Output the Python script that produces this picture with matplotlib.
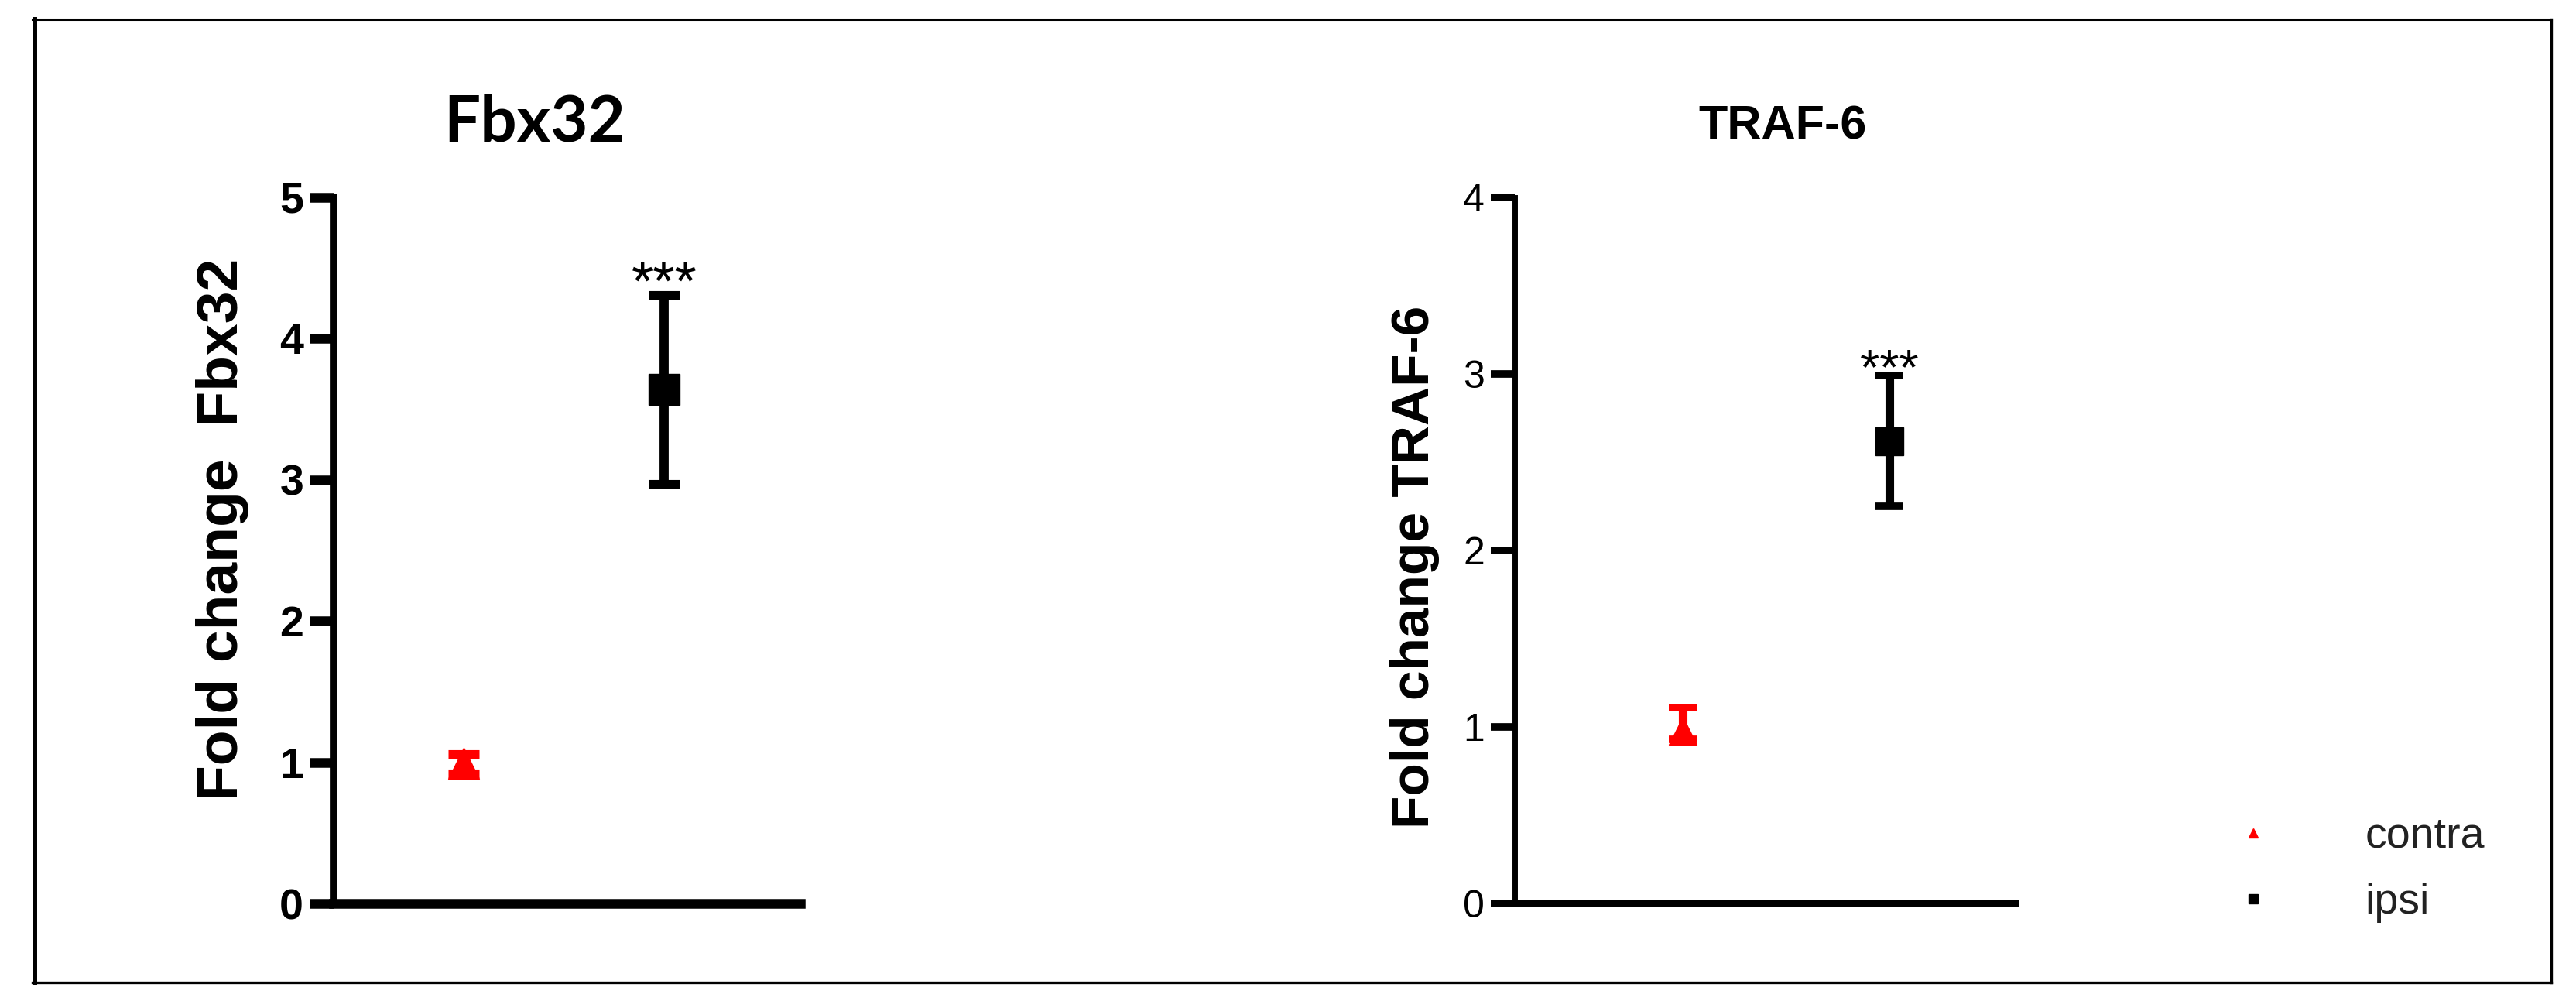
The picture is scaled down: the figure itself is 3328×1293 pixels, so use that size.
import matplotlib
matplotlib.use('Agg')
import matplotlib.pyplot as plt
from matplotlib.lines import Line2D

# data
groups = ['contra', 'ipsi']
fbx_mean = [0.99, 3.64]
fbx_err = [0.07, 0.67]
traf_mean = [0.98, 2.62]
traf_err_low = [0.05, 0.37]   # lower bar of contra hidden under the marker
traf_err_high = [0.13, 0.37]
fbx_ticks = [0, 1, 2, 3, 4, 5]
traf_ticks = [0, 1, 2, 3, 4]
stars = '***'
colors = ['#ff0000', '#000000']
markers = ['^', 's']

fig = plt.figure(figsize=(33.28, 12.93), dpi=100)
ax1 = fig.add_axes([0.1295, 0.0974, 0.1812, 0.7054])
ax2 = fig.add_axes([0.588, 0.0974, 0.1945, 0.7054])

# outer frame
fig.add_artist(Line2D([0.0126, 0.9904], [0.9807, 0.9807], lw=2.2, color='black'))
fig.add_artist(Line2D([0.9904, 0.9904], [0.0186, 0.9807], lw=2.4, color='black'))
fig.add_artist(Line2D([0.0126, 0.9904], [0.0186, 0.0186], lw=2.4, color='black'))
fig.add_artist(Line2D([0.0135, 0.0135], [0.0186, 0.9807], lw=4.3, color='black'))

# Fbx32 panel
for i in range(2):
    ax1.errorbar(i, fbx_mean[i], yerr=fbx_err[i], fmt=markers[i], color=colors[i],
                 ms=29, elinewidth=8.5, capsize=14.4, capthick=8, clip_on=False)
ax1.set_xlim(-0.647, 1.679)
ax1.set_ylim(0, 5)
ax1.set_xticks([])
ax1.set_yticks(fbx_ticks)
ax1.set_yticklabels([str(t) for t in fbx_ticks], fontsize=40, fontweight='bold',
                    family='Liberation Sans')
ax1.tick_params(axis='y', length=22, width=9, pad=6)
ax1.spines['top'].set_visible(False)
ax1.spines['right'].set_visible(False)
ax1.spines['left'].set_linewidth(7)
ax1.spines['bottom'].set_linewidth(9)
ax1.set_ylabel('Fold change  Fbx32', fontsize=54, fontweight='heavy', family='Liberation Sans')
ax1.yaxis.set_label_coords(-0.18, 0.53)
ax1.text(0.43, 1.105, 'Fbx32', transform=ax1.transAxes, ha='center', va='center',
         fontsize=60, fontweight='bold', family='Lato')
ax1.annotate(stars, xy=(1, fbx_mean[1] + fbx_err[1]), xytext=(0, -5),
             textcoords='offset points', ha='center', va='baseline', fontsize=52,
             family='Liberation Sans')

# TRAF-6 panel
for i in range(2):
    ax2.errorbar(i, traf_mean[i], yerr=[[traf_err_low[i]], [traf_err_high[i]]],
                 fmt=markers[i], color=colors[i],
                 ms=26, elinewidth=8, capsize=13, capthick=7, clip_on=False)
ax2.set_xlim(-0.81, 1.61)
ax2.set_ylim(0, 4)
ax2.set_xticks([])
ax2.set_yticks(traf_ticks)
ax2.set_yticklabels([str(t) for t in traf_ticks], fontsize=36, family='Liberation Sans')
ax2.tick_params(axis='y', length=22, width=7, pad=6)
ax2.spines['top'].set_visible(False)
ax2.spines['right'].set_visible(False)
ax2.spines['left'].set_linewidth(5)
ax2.spines['bottom'].set_linewidth(7)
ax2.set_ylabel('Fold change TRAF-6', fontsize=50, fontweight='bold', family='Liberation Sans')
ax2.yaxis.set_label_coords(-0.15, 0.477)
ax2.text(0.535, 1.1, 'TRAF-6', transform=ax2.transAxes, ha='center', va='center',
         fontsize=44, fontweight='bold', family='Liberation Sans')
ax2.annotate(stars, xy=(1, traf_mean[1] + traf_err_high[1]), xytext=(0, -8),
             textcoords='offset points', ha='center', va='baseline', fontsize=47,
             family='Liberation Sans')

# legend
handles = [Line2D([], [], marker=markers[i], color=colors[i], ls='none', ms=9) for i in range(2)]
fig.legend(handles, groups, loc='center left', bbox_to_anchor=(0.843, 0.131), frameon=False,
           handlelength=2, handletextpad=1.6, labelspacing=0.6,
           labelcolor='#222222', prop={'family': 'Liberation Sans', 'size': 40})

fig.savefig('out.png', dpi=100)
